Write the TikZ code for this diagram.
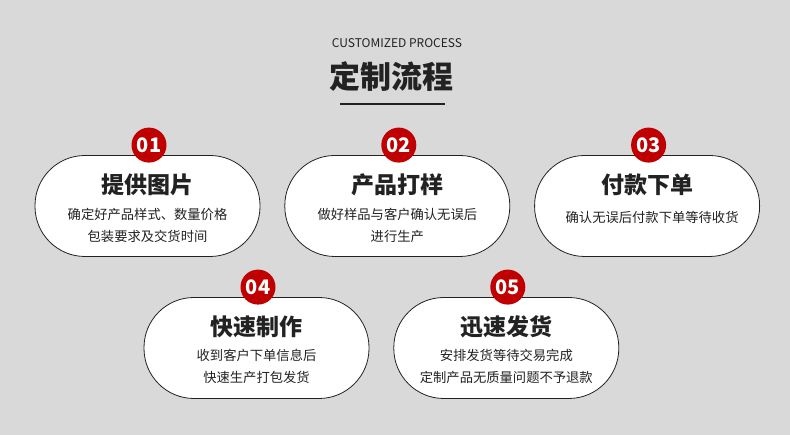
\documentclass[tikz,border=0pt]{standalone}
\usepackage{fontspec}
\setmainfont{Noto Sans CJK SC}
\usepackage{xcolor}
\usepackage{tikz}
\usetikzlibrary{positioning}

\definecolor{bggray}{HTML}{D9D9D9}
\definecolor{stepred}{HTML}{C00000}
\definecolor{inkdark}{HTML}{222222}

\begin{document}
\begin{tikzpicture}[
      x=1pt, y=1pt,
      node distance=24pt and 24pt,
      % Reusable styles
      pill/.style={
        draw=inkdark,
        fill=white,
        line width=0.8pt,
        rounded corners=50pt,
        inner sep=0pt,
        minimum width=225pt,
        minimum height=101pt
      },
      badge/.style={
        circle,
        fill=stepred,
        inner sep=0pt,
        minimum size=35pt,
        text=white,
        font=\fontsize{20}{20}\selectfont\bfseries
      },
      ptitle/.style={
        text=inkdark,
        inner sep=0pt,
        font=\fontsize{23}{23}\selectfont\bfseries
      },
      pdesc/.style={
        text=inkdark,
        align=center,
        inner sep=0pt,
        font=\fontsize{13.3}{22}\selectfont
      }
    ]
    \fill[bggray] (0,0) rectangle (790,435);
    \useasboundingbox (0,0) rectangle (790,435);

    % Heading
    \node[text=inkdark, font=\fontsize{12}{12}\selectfont] (sub) at (397,392) {CUSTOMIZED PROCESS};
    \node[text=inkdark, font=\fontsize{31}{31}\selectfont\bfseries] (head) at (391,358) {定制流程};
    \draw[inkdark, line width=2.5pt] (340,331) -- (445,331);

    % Pills
    \node[pill] (p1) at (147.5,229) {};
    \node[pill, right=of p1] (p2) {};
    \node[pill, right=of p2] (p3) {};
    \node[pill] (p4) at (256.5,87) {};
    \node[pill, right=of p4] (p5) {};

    % Badges
    \node[badge] (b1) at ([xshift=1.5pt, yshift=10pt]p1.north) {01};
    \node[badge] (b2) at ([xshift=1.5pt, yshift=10pt]p2.north) {02};
    \node[badge] (b3) at ([xshift=1.5pt, yshift=10pt]p3.north) {03};
    \node[badge] (b4) at ([xshift=1.5pt, yshift=10pt]p4.north) {04};
    \node[badge] (b5) at ([xshift=1.5pt, yshift=10pt]p5.north) {05};

    % Texts
    \node[ptitle] (t1) at ([yshift=-30pt]p1.north) {提供图片};
    \node[pdesc] (d1) at ([yshift=-70pt]p1.north) {确定好产品样式、数量价格\\包装要求及交货时间};
    \node[ptitle] (t2) at ([yshift=-30pt]p2.north) {产品打样};
    \node[pdesc] (d2) at ([yshift=-70pt]p2.north) {做好样品与客户确认无误后\\进行生产};
    \node[ptitle] (t3) at ([yshift=-30pt]p3.north) {付款下单};
    \node[pdesc] (d3) at ([xshift=5pt, yshift=-62pt]p3.north) {确认无误后付款下单等待收货};
    \node[ptitle] (t4) at ([yshift=-30pt]p4.north) {快速制作};
    \node[pdesc] (d4) at ([yshift=-69pt]p4.north) {收到客户下单信息后\\快速生产打包发货};
    \node[ptitle] (t5) at ([yshift=-30pt]p5.north) {迅速发货};
    \node[pdesc] (d5) at ([yshift=-69pt]p5.north) {安排发货等待交易完成\\定制产品无质量问题不予退款};
  \end{tikzpicture}
\end{document}
